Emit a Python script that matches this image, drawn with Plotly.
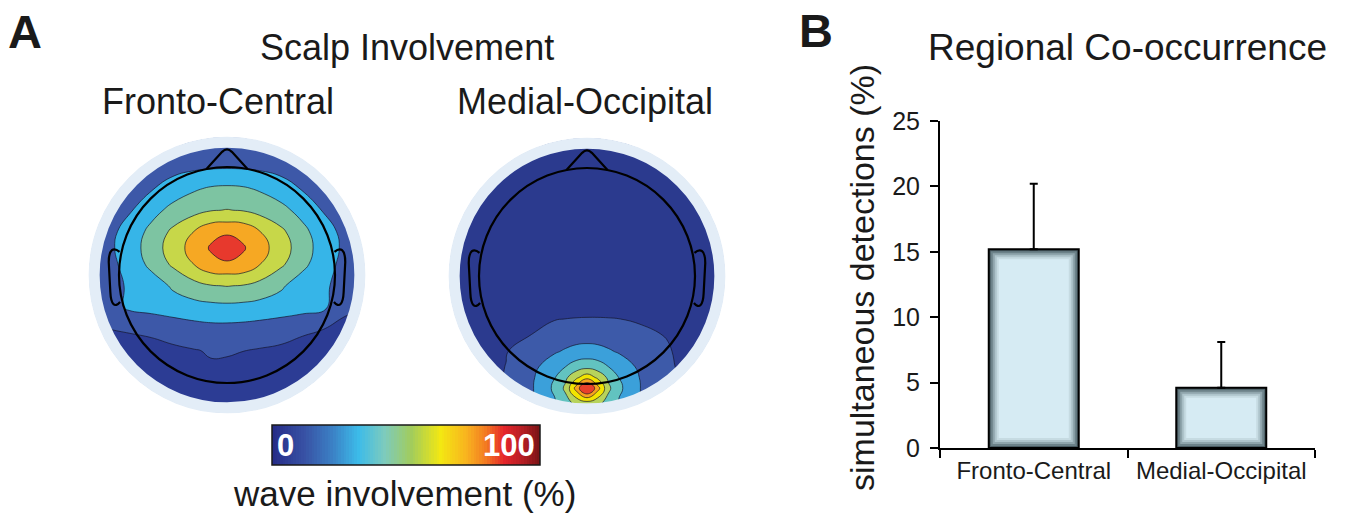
import plotly.graph_objects as go

W, H = 1347, 523

# ---------------- Panel B data ----------------
regions = ["Fronto-Central", "Medial-Occipital"]
co_occurrence_pct = [15.2, 4.6]
co_occurrence_err = [5.0, 3.5]
y_tick_vals = [0, 5, 10, 15, 20, 25]

# ---------------- Panel A data (wave involvement %, sampled in head units) ----------------
fc_u = [-1.3, -1.1, -0.9, -0.7, -0.5, -0.3, -0.15, 0, 0.15, 0.3, 0.5, 0.7, 0.9, 1.1, 1.3]
fc_v = [-1.3, -1.1, -0.9, -0.7, -0.5, -0.3, -0.1, 0.1, 0.25, 0.4, 0.6, 0.8, 1.0, 1.15, 1.3]
fc_z = [
    [3, 3, 3, 3.5, 3.5, 4, 4, 4, 4, 4, 3.5, 3.5, 3, 3, 3],
    [4, 4.5, 5, 5, 5.5, 6, 6, 6, 6, 5.5, 5, 5, 4.5, 4, 4],
    [5, 5.5, 6.5, 7, 7.5, 8, 8.5, 8.5, 8, 7.5, 7, 6.5, 5.5, 5, 4.5],
    [6, 7, 8, 8.5, 8, 9.5, 10.8, 10.6, 10.1, 9.2, 8, 7, 6.5, 5.5, 5],
    [9, 10, 10.5, 11, 15, 17.5, 18.5, 18.5, 18, 17, 15, 11.5, 10, 7, 6.5],
    [13, 17, 24, 26.5, 28, 29.5, 30.5, 31, 30.5, 29.5, 28, 26.5, 24, 12, 10],
    [13.8, 16.5, 24, 27.3, 35.8, 42.2, 45.3, 46.4, 45.3, 42.2, 35.8, 27.3, 24, 16.5, 13.8],
    [14.8, 18.7, 26, 37.3, 48, 58.5, 66.5, 67.5, 66.5, 58.5, 48, 37.3, 26, 18.7, 14.8],
    [15, 19.4, 28, 39.7, 51.7, 63.2, 71.2, 80, 71.2, 63.2, 51.7, 39.7, 28, 19.4, 15],
    [14.8, 18.8, 26.3, 37.6, 48.5, 58.6, 66.5, 67.5, 66.5, 58.6, 48.5, 37.6, 26.3, 18.8, 14.8],
    [14, 16.2, 21, 29.5, 37.8, 42.2, 45.3, 46.4, 45.3, 42.2, 37.8, 29.5, 21, 16.2, 14],
    [13, 14.6, 17.3, 21.1, 27.2, 32.7, 35.3, 36.1, 35.3, 32.7, 27.2, 21.1, 17.3, 14.6, 13],
    [12.3, 12.9, 14.2, 15.4, 18, 19.8, 20.6, 20.9, 20.6, 19.8, 18, 15.4, 14.2, 12.9, 12.3],
    [11.8, 12.3, 12.8, 13.7, 14.5, 15.1, 15.4, 15.5, 15.4, 15.1, 14.5, 13.7, 12.8, 12.3, 11.8],
    [11.2, 11.7, 12.1, 12.5, 12.8, 13.1, 13.3, 13.4, 13.3, 13.1, 12.8, 12.5, 12.1, 11.7, 11.2],
]

mo_u = [-1.3, -1.0, -0.75, -0.5, -0.3, -0.2, -0.1, 0, 0.1, 0.2, 0.3, 0.5, 0.75, 1.0, 1.3]
mo_v = [-1.3, -1.17, -1.04, -0.94, -0.84, -0.7, -0.55, -0.4, -0.2, 0.2, 0.6, 1.0, 1.3]
mo_z = [
    [4.0, 5.7, 9.7, 17.9, 25.4, 29.7, 32.6, 33.6, 32.6, 29.7, 25.4, 17.9, 11.0, 5.7, 4.0],
    [4.1, 5.9, 10.4, 20.6, 32.5, 41.1, 50.0, 55.0, 50.0, 41.1, 32.5, 20.6, 12.3, 5.9, 4.1],
    [4.2, 6.0, 10.6, 21.6, 36.3, 48.4, 74.6, 100, 74.6, 48.4, 36.3, 21.6, 12.5, 6.0, 4.2],
    [4.2, 6.0, 10.5, 21.0, 33.6, 43.5, 55.4, 66.0, 55.4, 43.5, 33.6, 21.0, 12.3, 6.0, 4.2],
    [4.1, 5.8, 10.2, 19.3, 29.0, 33.9, 39.7, 41.9, 39.7, 33.9, 29.0, 19.3, 11.5, 5.8, 4.1],
    [3.8, 5.5, 9.5, 15.6, 20.8, 23.4, 25.8, 26.6, 25.8, 23.4, 20.8, 15.6, 10.8, 5.5, 3.8],
    [3.4, 5.0, 6.6, 10.4, 14.6, 16.0, 16.9, 17.3, 16.9, 16.0, 14.6, 12.0, 9.5, 5.0, 3.4],
    [3.0, 4.3, 5.4, 7.1, 9.6, 10.1, 10.3, 10.4, 10.4, 10.3, 10.1, 9.0, 6.0, 4.3, 3.0],
    [2.9, 3.3, 4.3, 5.0, 5.4, 5.6, 5.7, 5.7, 5.7, 5.6, 5.4, 5.0, 4.3, 3.3, 2.9],
    [2.6, 2.8, 3.0, 3.0, 3.0, 3.0, 3.0, 3.0, 3.0, 3.0, 3.0, 3.0, 3.0, 2.8, 2.6],
    [2.4, 2.5, 2.5, 2.5, 2.5, 2.5, 2.5, 2.5, 2.5, 2.5, 2.5, 2.5, 2.5, 2.5, 2.4],
    [2.2, 2.2, 2.2, 2.2, 2.2, 2.2, 2.2, 2.2, 2.2, 2.2, 2.2, 2.2, 2.2, 2.2, 2.2],
    [2.0, 2.0, 2.0, 2.0, 2.0, 2.0, 2.0, 2.0, 2.0, 2.0, 2.0, 2.0, 2.0, 2.0, 2.0],
]

colorbar_ramp = list(range(0, 101))
colorbar_labels = ["0", "100"]

# ---------------- styles ----------------
FONT = "Liberation Sans, Arial, sans-serif"
TXT = "#1a1a1a"

fc_band_colors = ["#2c3c94", "#3d58a8", "#36b5e8", "#7dc4a2", "#c7d749", "#f6a823", "#e7392d"]
mo_band_colors = ["#2b3a8e", "#3d5aa9", "#3ba0da", "#62c3c0", "#b7d35b", "#f2e400", "#f6a31e", "#e8412b"]


def band_scale(cols):
    n = len(cols) - 1
    return [[i / n, c] for i, c in enumerate(cols)]


jet_scale = [
    [0.00, "#262d88"], [0.12, "#3852a5"], [0.22, "#3b7fc4"], [0.32, "#3cbbe9"],
    [0.42, "#7dcbbd"], [0.52, "#a2cc5c"], [0.63, "#f3e812"], [0.73, "#f8b21f"],
    [0.80, "#f37b21"], [0.87, "#e5252a"], [0.94, "#b51e24"], [1.00, "#7d1416"],
]

UNIT = 108.0      # px per head unit
HALF = 1.36       # half range of head axes (head units)


def head_domains(cx, cy):
    hw = HALF * UNIT
    return ([(cx - hw) / W, (cx + hw) / W],
            [(H - (cy + hw)) / H, (H - (cy - hw)) / H])


fc_dx, fc_dy = head_domains(227, 275)
mo_dx, mo_dy = head_domains(587, 276)

fig = go.Figure()

# ---------------- Panel A: scalp maps ----------------
contour_line = dict(color="rgba(20,20,40,0.85)", width=0.8, smoothing=1.3)
fig.add_trace(go.Contour(
    x=fc_u, y=fc_v, z=fc_z, xaxis="x2", yaxis="y2",
    colorscale=band_scale(fc_band_colors), autocontour=False,
    contours=dict(start=10, end=70, size=12, coloring="fill", showlines=True),
    line=contour_line, showscale=False, hoverinfo="skip"))
fig.add_trace(go.Contour(
    x=mo_u, y=mo_v, z=mo_z, xaxis="x3", yaxis="y3",
    colorscale=band_scale(mo_band_colors), autocontour=False,
    contours=dict(start=10, end=82, size=12, coloring="fill", showlines=True),
    line=contour_line, showscale=False, hoverinfo="skip"))

# colour bar as a heatmap ramp
fig.add_trace(go.Heatmap(
    z=[colorbar_ramp], x=colorbar_ramp, y=[0], xaxis="x4", yaxis="y4",
    colorscale=jet_scale, showscale=False, hoverinfo="skip"))

# ---------------- Panel B: bars with shaded edges ----------------
px_x = 2.0 / 375.0          # category units per px
px_y = 25.0 / 327.0         # y units per px
shade_cols = ["#4a5c63", "#6c8289", "#8fa5ac", "#aec4cb", "#c6dbe2", "#d6ebf3"]
BAR_W = 0.48
for k, col in enumerate(shade_cols):
    inset = 2 * k
    tr = dict(
        x=regions,
        y=[v - 2 * inset * px_y for v in co_occurrence_pct],
        base=[inset * px_y] * len(regions),
        width=BAR_W - 2 * inset * px_x,
        marker=dict(color=col, line=dict(color="black", width=2 if k == 0 else 0)),
        hoverinfo="skip", showlegend=False,
    )
    if k == 0:
        tr["error_y"] = dict(type="data", array=co_occurrence_err, arrayminus=[0] * len(regions),
                             symmetric=False, color="black", thickness=2, width=4)
    fig.add_trace(go.Bar(**tr))

# ---------------- shapes: head outlines & masks ----------------
shapes = []
for xr, yr in (("x2", "y2"), ("x3", "y3")):
    def circ(r, color, width):
        return dict(type="circle", xref=xr, yref=yr, x0=-r, x1=r, y0=-r, y1=r,
                    line=dict(color=color, width=width), layer="above")
    shapes.append(circ(1.58, "white", 66))
    shapes.append(circ(1.23, "#e3edf7", 11))
    shapes.append(circ(1.0, "black", 2.2))
    shapes.append(dict(type="path", xref=xr, yref=yr, layer="above",
                       path="M -0.19,0.982 L -0.045,1.14 Q 0,1.185 0.045,1.14 L 0.19,0.982",
                       line=dict(color="black", width=2.2)))
    shapes.append(dict(type="path", xref=xr, yref=yr, layer="above",
                       path="M -0.995,0.215 C -1.05,0.26 -1.095,0.24 -1.095,0.12 "
                            "L -1.08,-0.16 C -1.075,-0.27 -1.04,-0.31 -0.99,-0.25",
                       line=dict(color="black", width=2.2)))
    shapes.append(dict(type="path", xref=xr, yref=yr, layer="above",
                       path="M 0.995,0.215 C 1.05,0.26 1.095,0.24 1.095,0.12 "
                            "L 1.08,-0.16 C 1.075,-0.27 1.04,-0.31 0.99,-0.25",
                       line=dict(color="black", width=2.2)))
shapes.append(dict(type="rect", xref="x4 domain", yref="y4 domain", x0=0, x1=1, y0=0, y1=1,
                   line=dict(color="#1a1a1a", width=1.5), layer="above"))


# ---------------- annotations ----------------
def ann(text, x, y, size, bold=False, color=TXT, xanchor="center", angle=0):
    return dict(text=f"<b>{text}</b>" if bold else text, x=x / W, y=1 - y / H,
                xref="paper", yref="paper", xanchor=xanchor, yanchor="middle",
                showarrow=False, textangle=angle, font=dict(family=FONT, size=size, color=color))


annotations = [
    ann("A", 6, 31, 47, bold=True, xanchor="left"),
    ann("B", 797, 30, 47, bold=True, xanchor="left"),
    ann("Scalp Involvement", 407, 48, 36),
    ann("Fronto-Central", 218, 101, 36),
    ann("Medial-Occipital", 585, 101, 36),
    ann("Regional Co-occurrence", 1127, 48, 37),
    ann("wave involvement (%)", 404, 493, 35),
    ann("simultaneous detections (%)", 862, 278, 34, angle=-90),
    dict(text=f"<b>{colorbar_labels[0]}</b>", x=colorbar_ramp[0], y=0, xref="x4", yref="y4",
         xanchor="left", yanchor="middle", xshift=2, showarrow=False,
         font=dict(family=FONT, size=31, color="white")),
    dict(text=f"<b>{colorbar_labels[1]}</b>", x=colorbar_ramp[-1], y=0, xref="x4", yref="y4",
         xanchor="right", yanchor="middle", xshift=-2, showarrow=False,
         font=dict(family=FONT, size=31, color="white")),
]

hidden = dict(visible=False, fixedrange=True, showgrid=False, zeroline=False)

fig.update_layout(
    width=W, height=H, margin=dict(l=0, r=0, t=0, b=0, autoexpand=False),
    paper_bgcolor="white", plot_bgcolor="white",
    showlegend=False, barmode="overlay",
    font=dict(family=FONT, color=TXT),
    xaxis=dict(domain=[940 / W, 1315 / W], type="category", range=[-0.5, 1.5],
               showline=True, linecolor="black", linewidth=2, ticks="outside",
               ticklen=8, tickwidth=2, tickcolor="black", tickson="boundaries",
               tickangle=0, automargin=False,
               tickfont=dict(size=24, color=TXT, family=FONT), showgrid=False,
               zeroline=False, anchor="y"),
    yaxis=dict(domain=[(H - 448) / H, (H - 121) / H], range=[0, 25], tickvals=y_tick_vals,
               showline=True, linecolor="black", linewidth=2, ticks="outside",
               ticklen=8, tickwidth=2, tickcolor="black", automargin=False,
               tickfont=dict(size=25, color=TXT, family=FONT), showgrid=False,
               zeroline=False, anchor="x", ticklabelstandoff=5),
    xaxis2=dict(domain=fc_dx, range=[-HALF, HALF], anchor="y2", **hidden),
    yaxis2=dict(domain=fc_dy, range=[-HALF, HALF], anchor="x2", **hidden),
    xaxis3=dict(domain=mo_dx, range=[-HALF, HALF], anchor="y3", **hidden),
    yaxis3=dict(domain=mo_dy, range=[-HALF, HALF], anchor="x3", **hidden),
    xaxis4=dict(domain=[272 / W, 540 / W], range=[-0.5, 100.5], anchor="y4", **hidden),
    yaxis4=dict(domain=[(H - 465) / H, (H - 425) / H], range=[-0.5, 0.5], anchor="x4", **hidden),
    shapes=shapes, annotations=annotations,
)

fig.write_html("out.html")
